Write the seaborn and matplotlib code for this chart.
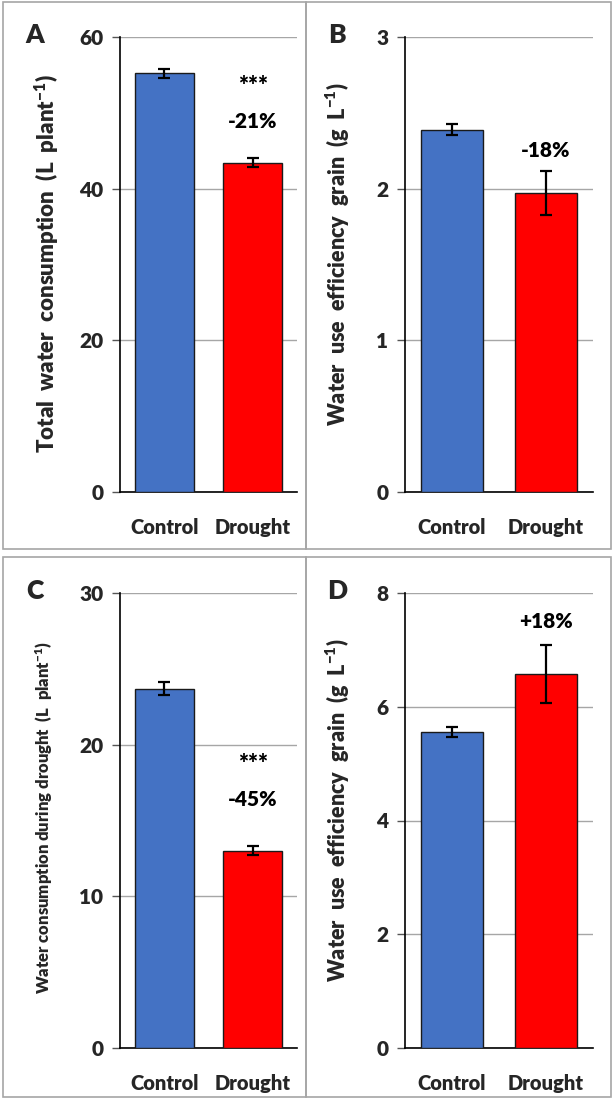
import matplotlib
matplotlib.use("Agg")
import matplotlib.pyplot as plt
import seaborn as sns
import pandas as pd
from matplotlib.patches import Rectangle

sns.set_theme(style="white")
plt.rcParams['font.family'] = ['Lato', 'DejaVu Sans']
plt.rcParams['font.weight'] = 'heavy'
plt.rcParams['mathtext.fontset'] = 'custom'
plt.rcParams['mathtext.rm'] = 'Lato:heavy'
plt.rcParams['mathtext.bf'] = 'Lato:heavy'
plt.rcParams['mathtext.it'] = 'Lato:heavy'

categories = ["Control", "Drought"]
colors = ["#4472C4", "#FF0000"]

# Panel A: total water consumption
a_means = [55.2, 43.4]
a_err = [0.6, 0.6]
# Panel B: WUE grain
b_means = [2.39, 1.97]
b_err = [0.035, 0.145]
# Panel C: water consumption during drought
c_means = [23.7, 13.0]
c_err = [0.45, 0.3]
# Panel D: WUE grain
d_means = [5.56, 6.58]
d_err = [0.09, 0.51]

panels = [
    dict(letter="A", means=a_means, err=a_err, ymax=60, ticks=[0, 20, 40, 60],
         ylabel="Total  water  consumption  (L  plant$^{-1}$)", ylsize=16,
         notes=[("***", 53.6), ("-21%", 48.9)], box=(120, 297, 37, 492),
         ylx=47, yly=264, lx=35),
    dict(letter="B", means=b_means, err=b_err, ymax=3, ticks=[0, 1, 2, 3],
         ylabel="Water  use  efficiency  grain  (g  L$^{-1}$)", ylsize=15.5,
         notes=[("-18%", 2.25)], box=(405, 593, 37, 492), ylx=338, yly=254,
         lx=337),
    dict(letter="C", means=c_means, err=c_err, ymax=30, ticks=[0, 10, 20, 30],
         ylabel="Water consumption during drought  (L  plant$^{-1}$)", ylsize=12,
         notes=[("***", 18.7), ("-45%", 16.4)], box=(120, 297, 593, 1048),
         ylx=44, yly=818, lx=35),
    dict(letter="D", means=d_means, err=d_err, ymax=8, ticks=[0, 2, 4, 6, 8],
         ylabel="Water  use  efficiency  grain  (g  L$^{-1}$)", ylsize=15.5,
         notes=[("+18%", 7.5)], box=(405, 593, 593, 1048), ylx=338, yly=810,
         lx=337),
]

W, H = 614, 1099
fig = plt.figure(figsize=(W / 100, H / 100), dpi=100)

# panel frames
for (x0, x1, y0, y1) in [(3, 306, 2, 549), (306, 611, 2, 549),
                         (3, 306, 557, 1097), (306, 611, 557, 1097)]:
    fig.patches.append(Rectangle((x0 / W, 1 - y1 / H), (x1 - x0) / W, (y1 - y0) / H,
                                 transform=fig.transFigure, fill=False,
                                 edgecolor="#A6A6A6", linewidth=1.2))

for p in panels:
    l, r, t, b = p["box"]
    ax = fig.add_axes([l / W, 1 - b / H, (r - l) / W, (b - t) / H])
    df = pd.DataFrame({"group": categories, "value": p["means"]})
    sns.barplot(data=df, x="group", y="value", hue="group", palette=colors,
                saturation=1, width=0.67, edgecolor="#1a1a1a", linewidth=1.0,
                legend=False, errorbar=None, ax=ax, zorder=3)
    ax.errorbar(range(len(categories)), p["means"], yerr=p["err"], fmt="none",
                ecolor="black", elinewidth=1.6, capsize=4, capthick=1.6, zorder=4)
    ax.set_xlim(-0.5, 1.5)
    ax.set_ylim(0, p["ymax"])
    ax.set_yticks(p["ticks"])
    ax.set_yticklabels([str(v) for v in p["ticks"]])
    ax.yaxis.grid(True, color="#A6A6A6", linewidth=1.0, zorder=0)
    ax.set_axisbelow(True)
    for s in ["top", "right"]:
        ax.spines[s].set_visible(False)
    for s in ["left", "bottom"]:
        ax.spines[s].set_color("black")
        ax.spines[s].set_linewidth(1.2)
    ax.tick_params(axis="y", left=True, length=6, width=1.0, color="#555555",
                   labelsize=15, pad=6)
    ax.tick_params(axis="x", bottom=False, labelsize=14.5, pad=13)
    for lab in ax.get_xticklabels() + ax.get_yticklabels():
        lab.set_fontweight("heavy")
    ax.set_xlabel("")
    ax.set_ylabel("")
    for txt, yv in p["notes"]:
        fs = 17 if txt == "***" else 15
        ax.text(1, yv, txt, ha="center", va="center", fontsize=fs,
                fontweight="heavy", color="black")
    fig.text(p["ylx"] / W, 1 - p["yly"] / H, p["ylabel"], rotation=90,
             ha="center", va="center", fontsize=p["ylsize"], fontweight="heavy")
    fig.text(p["lx"] / W, 1 - (t - 2) / H, p["letter"], ha="center", va="center",
             fontsize=19, fontweight="heavy")

fig.savefig("out.png", dpi=100)
